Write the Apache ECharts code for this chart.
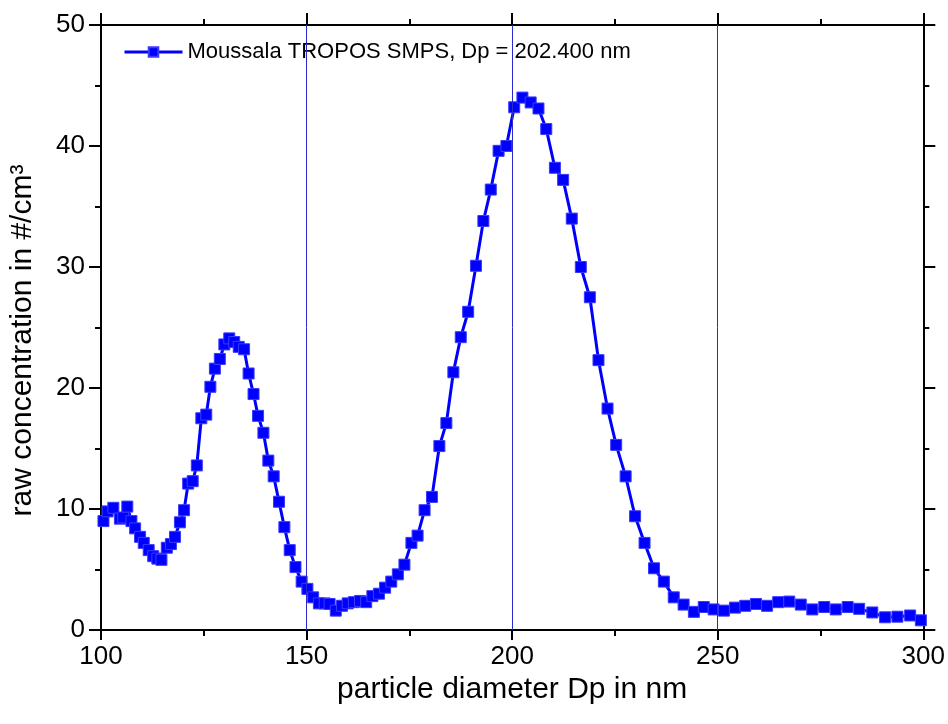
<!DOCTYPE html>
<html>
<head>
<meta charset="utf-8">
<script src="https://cdn.jsdelivr.net/npm/echarts@6/dist/echarts.min.js"></script>
<style>
html,body{margin:0;padding:0;background:#fff;}
#chart{width:948px;height:724px;}
</style>
</head>
<body>
<div id="chart"></div>
<script>
// particle diameter Dp (nm)
const dp = [
 100.6,101.6,103.0,104.6,105.4,106.4,107.4,108.3,109.5,110.4,111.6,112.7,113.7,114.7,
 116.0,117.0,118.0,119.2,120.2,121.2,122.3,123.3,124.4,125.6,126.6,127.7,128.9,130.0,
 131.2,132.4,133.5,134.8,135.9,137.1,138.2,139.5,140.7,142.0,143.3,144.6,145.9,147.3,
 148.8,150.2,151.6,153.0,154.4,155.6,157.1,158.6,160.0,161.5,163.0,164.5,166.0,167.6,
 169.1,170.6,172.2,173.8,175.5,177.0,178.7,180.5,182.3,184.0,185.7,187.5,189.3,191.2,
 193.0,194.8,196.7,198.6,200.5,202.5,204.5,206.4,208.3,210.4,212.4,214.5,216.7,218.9,
 221.0,223.2,225.3,227.6,229.9,232.2,234.5,236.9,239.3,241.7,244.2,246.6,249.0,251.5,
 254.2,256.7,259.3,262.0,264.7,267.4,270.2,273.0,275.9,278.7,281.6,284.4,287.6,290.7,
 293.7,296.8,299.4
];
// raw concentration (#/cm3)
const conc = [
 9.0,9.8,10.1,9.2,9.3,10.2,9.0,8.4,7.7,7.2,6.6,6.1,5.9,5.8,
 6.8,7.1,7.7,8.9,9.9,12.1,12.3,13.6,17.5,17.8,20.1,21.6,22.4,23.6,
 24.1,23.8,23.4,23.2,21.2,19.5,17.7,16.3,14.0,12.7,10.6,8.5,6.6,5.2,
 4.0,3.4,2.7,2.2,2.2,2.15,1.6,2.0,2.2,2.3,2.4,2.3,2.8,3.0,
 3.5,4.0,4.6,5.4,7.2,7.8,9.9,11.0,15.2,17.1,21.3,24.2,26.3,30.1,
 33.8,36.4,39.6,40.0,43.2,44.0,43.6,43.1,41.4,38.2,37.2,34.0,30.0,27.5,
 22.3,18.3,15.3,12.7,9.4,7.2,5.1,4.0,2.7,2.1,1.5,1.9,1.7,1.6,
 1.85,2.0,2.15,2.0,2.3,2.35,2.1,1.7,1.9,1.7,1.9,1.75,1.45,1.05,
 1.1,1.2,0.8
];
const refLines = [150, 200, 250];
const seriesName = 'Moussala TROPOS SMPS, Dp = 202.400 nm';
const xTitle = 'particle diameter Dp in nm';
const yTitle = 'raw concentration in #/cm³';

const FONT = "'Liberation Sans', Arial, sans-serif";
const chart = echarts.init(document.getElementById('chart'), null, {renderer:'canvas'});

const baseX = {
  type:'value', min:100, max:300, interval:50,
  axisLine:{show:true, onZero:false, lineStyle:{color:'#000', width:2}},
  axisTick:{show:true, inside:false, length:10, lineStyle:{color:'#000', width:2}},
  minorTick:{show:true, splitNumber:2, length:6, lineStyle:{color:'#000', width:2}},
  splitLine:{show:false}
};
const baseY = {
  type:'value', min:0, max:50, interval:10,
  axisLine:{show:true, onZero:false, lineStyle:{color:'#000', width:2}},
  axisTick:{show:true, inside:false, length:12, lineStyle:{color:'#000', width:2}},
  minorTick:{show:true, splitNumber:2, length:6, lineStyle:{color:'#000', width:2}},
  splitLine:{show:false}
};

chart.setOption({
  animation:false,
  backgroundColor:'#fff',
  textStyle:{fontFamily:FONT},
  grid:{left:101, right:23, top:25, bottom:94, containLabel:false},
  legend:{
    show:true, left:118, top:36, itemWidth:58, itemHeight:12, itemGap:3,
    lineStyle:{width:3, color:'#0000ff'},
    textStyle:{fontFamily:FONT, fontSize:22, color:'#000'},
    data:[seriesName]
  },
  xAxis:[
    Object.assign({}, baseX, {
      position:'bottom',
      axisLabel:{show:true, fontSize:26, color:'#000', margin:14, fontFamily:FONT},
      name:xTitle, nameLocation:'middle', nameGap:40,
      nameTextStyle:{fontSize:30, color:'#000', fontFamily:FONT}
    }),
    Object.assign({}, baseX, {position:'top', axisLabel:{show:false}, axisTick:Object.assign({}, baseX.axisTick, {length:12})})
  ],
  yAxis:[
    Object.assign({}, baseY, {
      position:'left',
      axisLabel:{show:true, fontSize:26, color:'#000', margin:16, fontFamily:FONT},
      name:yTitle, nameLocation:'middle', nameGap:63,
      nameTextStyle:{fontSize:30, color:'#000', fontFamily:FONT, padding:[0,26,0,0]}
    }),
    Object.assign({}, baseY, {position:'right', axisLabel:{show:false}})
  ],
  series:[
    {
      type:'line', name:'refs', data:[], z:1, silent:true,
      xAxisIndex:0, yAxisIndex:0,
      markLine:{
        silent:true, symbol:['none','none'], label:{show:false},
        lineStyle:{color:'#2a2ad0', width:1, type:'solid'},
        data: refLines.map(v => ({xAxis:v}))
      }
    },
    {
      type:'line', name:seriesName, z:3,
      xAxisIndex:0, yAxisIndex:0,
      data: dp.map((x,i)=>[x, conc[i]]),
      symbol:'rect', symbolSize:11, showAllSymbol:true,
      lineStyle:{color:'#0000ff', width:3},
      itemStyle:{color:'#0000ff', borderColor:'#3a3aff', borderWidth:1},
      clip:true
    }
  ]
});
</script>
</body>
</html>
